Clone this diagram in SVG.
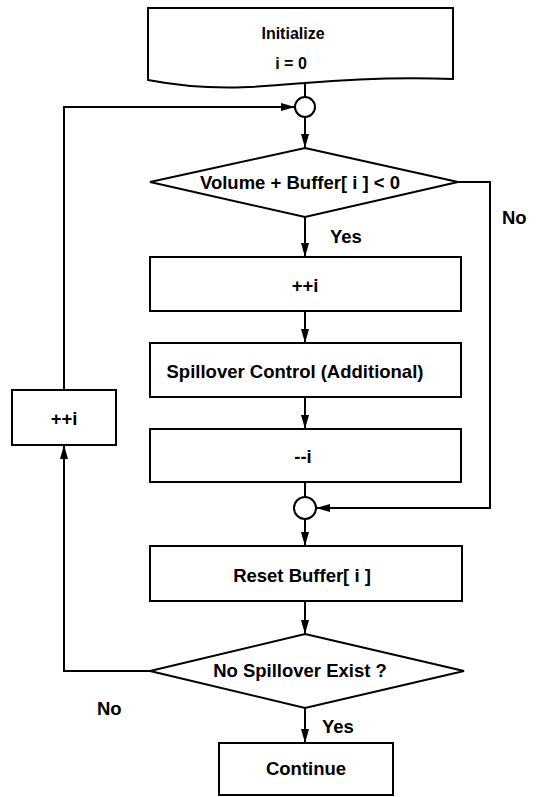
<svg xmlns="http://www.w3.org/2000/svg" width="539" height="797" viewBox="0 0 539 797">
<style>
.s{fill:#fff;stroke:#000;stroke-width:2}
.c{fill:none;stroke:#000;stroke-width:2}
text{font-family:"Liberation Sans",Arial,sans-serif;font-weight:bold;font-size:18.5px;fill:#000}
.m{text-anchor:middle}
.sm{font-size:16px}
</style>
<defs>
<marker id="a" viewBox="0 0 14 8" refX="14" refY="4" markerWidth="14" markerHeight="8" markerUnits="userSpaceOnUse" orient="auto">
<path d="M0,0 L14,4 L0,8 Z" fill="#000"/>
</marker>
</defs>
<rect width="539" height="797" fill="#fff"/>
<g id="connectors">
<line class="c" x1="305" y1="82" x2="305" y2="97"/>
<line class="c" x1="305" y1="117" x2="305" y2="148" marker-end="url(#a)"/>
<polyline class="c" points="150,671 64,671 64,445" marker-end="url(#a)"/>
<polyline class="c" points="64,390 64,107 295,107" marker-end="url(#a)"/>
<line class="c" x1="305" y1="217" x2="305" y2="257" marker-end="url(#a)"/>
<line class="c" x1="305" y1="311" x2="305" y2="343" marker-end="url(#a)"/>
<line class="c" x1="305" y1="397" x2="305" y2="429" marker-end="url(#a)"/>
<line class="c" x1="305" y1="482" x2="305" y2="497"/>
<line class="c" x1="305" y1="519" x2="305" y2="546" marker-end="url(#a)"/>
<polyline class="c" points="458,182 490,182 490,508 316,508" marker-end="url(#a)"/>
<line class="c" x1="305" y1="601" x2="305" y2="634" marker-end="url(#a)"/>
<line class="c" x1="305" y1="708" x2="305" y2="743" marker-end="url(#a)"/>
<text x="330" y="243">Yes</text>
<text x="502" y="224">No</text>
<text x="97" y="715">No</text>
<text x="322" y="733">Yes</text>
</g>
<g id="init">
<path class="s" d="M148,8 H453 V79 C400,77 340,80 305,83 C260,87 210,92 148,80 Z"/>
<text class="m sm" x="293" y="39">Initialize</text>
<text class="m sm" x="291" y="69">i = 0</text>
</g>
<g id="join1"><circle class="s" cx="305" cy="107" r="10"/></g>
<g id="cond1">
<polygon class="s" points="305,148 458,182 305,217 150,182"/>
<text class="m" x="300" y="189">Volume + Buffer[ i ] &lt; 0</text>
</g>
<g id="inc">
<rect class="s" x="150" y="257" width="311" height="54"/>
<text class="m" x="305" y="292">++i</text>
</g>
<g id="spill">
<rect class="s" x="150" y="343" width="311" height="54"/>
<text class="m" x="295" y="378">Spillover Control (Additional)</text>
</g>
<g id="dec">
<rect class="s" x="150" y="429" width="311" height="53"/>
<text class="m" x="303" y="463">--i</text>
</g>
<g id="join2"><circle class="s" cx="305" cy="508" r="11"/></g>
<g id="reset">
<rect class="s" x="150" y="546" width="312" height="55"/>
<text class="m" x="302" y="582">Reset Buffer[ i ]</text>
</g>
<g id="cond2">
<polygon class="s" points="305,634 464,671 305,708 150,671"/>
<text class="m" x="300" y="677">No Spillover Exist ?</text>
</g>
<g id="inc2">
<rect class="s" x="12" y="390" width="104" height="55"/>
<text class="m" x="64" y="425">++i</text>
</g>
<g id="cont">
<rect class="s" x="219" y="743" width="174" height="52"/>
<text class="m" x="306" y="775">Continue</text>
</g>
</svg>
